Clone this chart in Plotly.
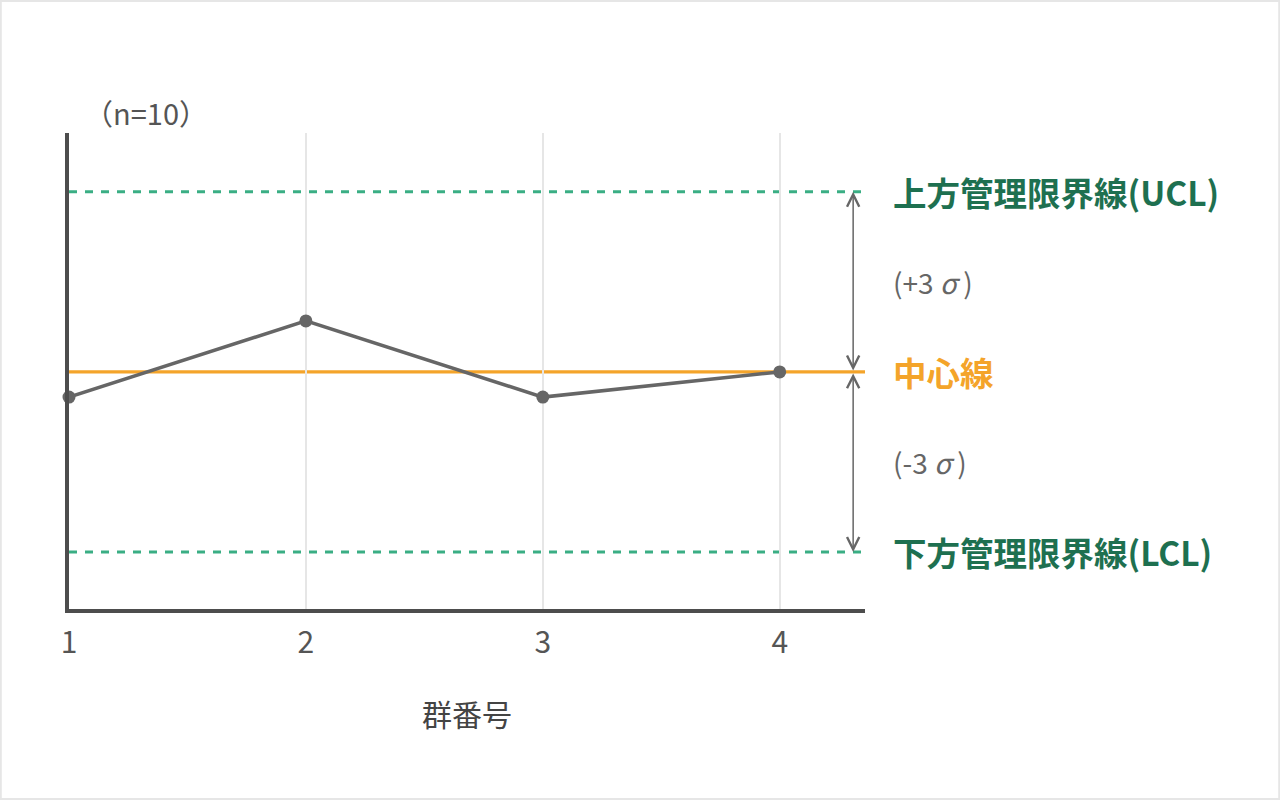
import plotly.graph_objects as go

# 群番号 と 各群の値 (中心線 = 0, 1σ = 1)
groups = [1, 2, 3, 4]
values = [-0.42, 0.85, -0.42, 0.0]

center = 0.0
ucl = 3.0
lcl = -3.0

labels_right = ["上方管理限界線(UCL)", "(+3 <i>σ</i> )", "中心線", "(-3 <i>σ</i> )", "下方管理限界線(LCL)"]
label_y = [3.0, 1.5, 0.0, -1.5, -3.0]

FONT = "Noto Sans CJK JP"
GREEN_LINE = "#3aae84"
GREEN_TEXT = "#1e7050"
ORANGE = "#f4a42a"
GRAY = "#666666"
AXIS = "#4d4d4d"

L, R, T, B = 69, 415, 133, 191
PW, PH = 1280 - L - R, 800 - T - B

fig = go.Figure()

# 管理限界線と中心線
for yv in [ucl, lcl]:
    fig.add_shape(type="line", xref="x", yref="y", x0=1, x1=4.36, y0=yv, y1=yv,
                  line=dict(color=GREEN_LINE, width=3, dash="8px,8px"), layer="below")
fig.add_shape(type="line", xref="x", yref="y", x0=1, x1=4.36, y0=center, y1=center,
              line=dict(color=ORANGE, width=3.3), layer="below")

# 枠線
fig.add_shape(type="rect", xref="paper", yref="paper",
              x0=-L/PW + 0.001, x1=(1280-L)/PW - 0.001,
              y0=-B/PH + 0.002, y1=(800-B)/PH - 0.002,
              line=dict(color="#e6e6e6", width=2), layer="below")

fig.add_trace(go.Scatter(
    x=groups, y=values, mode="lines+markers",
    line=dict(color=GRAY, width=3.5),
    marker=dict(color=GRAY, size=13),
    cliponaxis=False, showlegend=False, hoverinfo="skip"
))

# ±3σ の矢印
arrow_x = 4.31
for yv in [ucl, lcl]:
    fig.add_annotation(x=arrow_x, y=yv, ax=arrow_x, ay=center, xref="x", yref="y",
                       axref="x", ayref="y", text="", showarrow=True,
                       arrowhead=5, startarrowhead=5, arrowside="end+start",
                       arrowsize=1.6, startarrowsize=1.6, arrowwidth=1.5,
                       arrowcolor=GRAY, standoff=0, startstandoff=0)

colors = [GREEN_TEXT, GRAY, ORANGE, GRAY, GREEN_TEXT]
bold = [True, False, True, False, True]
sizes = [33.5, 28, 33.5, 28, 33.5]
for txt, yv, c, b, s in zip(labels_right, label_y, colors, bold, sizes):
    fig.add_annotation(x=(891-L)/PW, y=yv, xref="paper", yref="y",
                       text=f"<b>{txt}</b>" if b else txt, showarrow=False,
                       xanchor="left", yanchor="middle",
                       font=dict(family=FONT, size=s, color=c))

fig.add_annotation(x=(146-L)/PW, y=(609-112)/PH, xref="paper", yref="paper",
                   text="（n=10）", showarrow=False, xanchor="center", yanchor="middle",
                   font=dict(family=FONT, size=29, color="#555555"))

fig.update_layout(
    width=1280, height=800,
    margin=dict(l=L, r=R, t=T, b=B),
    plot_bgcolor="white", paper_bgcolor="white",
    dragmode=False,
    xaxis=dict(
        range=[1, 4.36], tickvals=groups, ticktext=[str(g) for g in groups],
        showgrid=True, gridcolor="#e6e6e6", gridwidth=1.5,
        showline=True, linecolor=AXIS, linewidth=3.5, zeroline=False,
        ticks="", ticklabelstandoff=4,
        tickfont=dict(family=FONT, size=30, color="#555555"),
        title=dict(text="群番号", standoff=45,
                   font=dict(family=FONT, size=30, color="#444444")),
    ),
    yaxis=dict(
        range=[-3.95, 3.98], showgrid=False, zeroline=False,
        showline=True, linecolor=AXIS, linewidth=3.5, showticklabels=False, ticks="",
    ),
)

fig.write_html("out.html", config={"displayModeBar": False},
               post_script="document.body.style.margin='0';")
